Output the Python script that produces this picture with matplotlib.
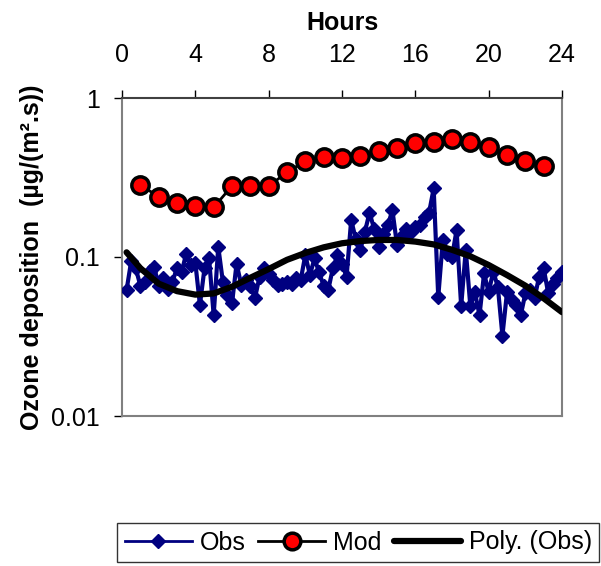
import numpy as np
import matplotlib
matplotlib.use('Agg')
import matplotlib.pyplot as plt

plt.rcParams['font.family'] = ['Liberation Sans', 'DejaVu Sans']

# observed deposition, every 15 minutes (0:15 .. 24:00)
obs_hours = np.arange(1, 97) * 0.25
obs = [0.062, 0.094, 0.085, 0.066, 0.070, 0.082, 0.087, 0.066,
       0.074, 0.063, 0.070, 0.085, 0.080, 0.105, 0.089, 0.092,
       0.050, 0.085, 0.098, 0.043, 0.116, 0.070, 0.058, 0.051,
       0.091, 0.067, 0.072, 0.066, 0.055, 0.075, 0.085, 0.078,
       0.072, 0.067, 0.068, 0.070, 0.068, 0.074, 0.072, 0.103,
       0.077, 0.098, 0.080, 0.066, 0.062, 0.085, 0.103, 0.090,
       0.075, 0.171, 0.130, 0.111, 0.144, 0.190, 0.151, 0.116,
       0.140, 0.159, 0.197, 0.119, 0.135, 0.151, 0.144, 0.155,
       0.160, 0.179, 0.190, 0.270, 0.056, 0.128, 0.105, 0.100,
       0.148, 0.049, 0.111, 0.049, 0.060, 0.043, 0.079, 0.060,
       0.081, 0.065, 0.032, 0.060, 0.054, 0.050, 0.043, 0.059,
       0.062, 0.055, 0.075, 0.085, 0.059, 0.068, 0.074, 0.081]

# modelled deposition, hourly
mod_hours = list(range(1, 24))
mod = [0.283, 0.240, 0.218, 0.210, 0.205, 0.280, 0.280, 0.280,
       0.340, 0.403, 0.428, 0.420, 0.434, 0.464, 0.487, 0.524,
       0.530, 0.550, 0.530, 0.494, 0.438, 0.400, 0.375]

# polynomial trendline of Obs
trend_hours = [0.25, 1, 2, 3, 4, 5, 6, 7, 8, 9, 10, 11, 12,
               13, 14, 15, 16, 17, 18, 19, 20, 21, 22, 23, 24]
trend = [0.107, 0.085, 0.068, 0.061, 0.058, 0.059, 0.065, 0.074, 0.084,
         0.096, 0.106, 0.115, 0.122, 0.126, 0.128, 0.128, 0.125, 0.120,
         0.111, 0.101, 0.089, 0.077, 0.066, 0.055, 0.045]

hour_ticks = [0, 4, 8, 12, 16, 20, 24]

fig = plt.figure(figsize=(6.01, 5.66), dpi=100)
ax = fig.add_axes([122 / 601, 1 - 416 / 566, 440 / 601, 318 / 566])

l_obs, = ax.plot(obs_hours, obs, color='#000080', lw=3, marker='D', ms=7.5,
                 label='Obs', zorder=3)
l_mod, = ax.plot(mod_hours, mod, color='black', lw=2, marker='o', ms=12.5,
                 mfc='#ff0000', mec='black', mew=2.5, label='Mod', zorder=4)
l_poly, = ax.plot(trend_hours, trend, color='black', lw=4.5,
                  solid_joinstyle='round', solid_capstyle='round',
                  label='Poly. (Obs)', zorder=5)

ax.set_yscale('log')
ax.set_ylim(0.01, 1)
ax.set_yticks([0.01, 0.1, 1])
ax.set_yticklabels(['0.01', '0.1', '1'])
ax.yaxis.set_minor_locator(matplotlib.ticker.NullLocator())
ax.set_xlim(0, 24)
ax.set_xticks(hour_ticks)
ax.xaxis.tick_top()
ax.xaxis.set_label_position('top')
ax.tick_params(axis='both', labelsize=18, direction='out', length=6, width=1)
ax.tick_params(axis='x', pad=16)
ax.tick_params(axis='y', pad=10)
ax.set_xlabel('Hours', fontsize=18, fontweight='bold', labelpad=10)
ax.set_ylabel('Ozone deposition  (µg/(m².s))', fontsize=18,
              fontweight='bold', labelpad=5)

for side in ['left', 'right', 'bottom']:
    ax.spines[side].set_color('#808080')
    ax.spines[side].set_linewidth(1.5)
ax.spines['top'].set_color('#404040')
ax.spines['top'].set_linewidth(1.5)

leg = fig.legend(handles=[l_obs, l_mod, l_poly], loc='upper left',
                 bbox_to_anchor=(117 / 601, 1 - 523 / 566), ncol=3,
                 fontsize=18, frameon=True, fancybox=False, edgecolor='black',
                 handlelength=2.7, handletextpad=0.3, columnspacing=0.5,
                 borderpad=0.3, borderaxespad=0)
leg.get_frame().set_linewidth(1)
for h in leg.legend_handles:
    if h.get_label() == 'Obs':
        h.set_markersize(7)
        h.set_linewidth(2)
    if h.get_label() == 'Mod':
        h.set_markersize(12)

fig.savefig('out.png', dpi=100)
